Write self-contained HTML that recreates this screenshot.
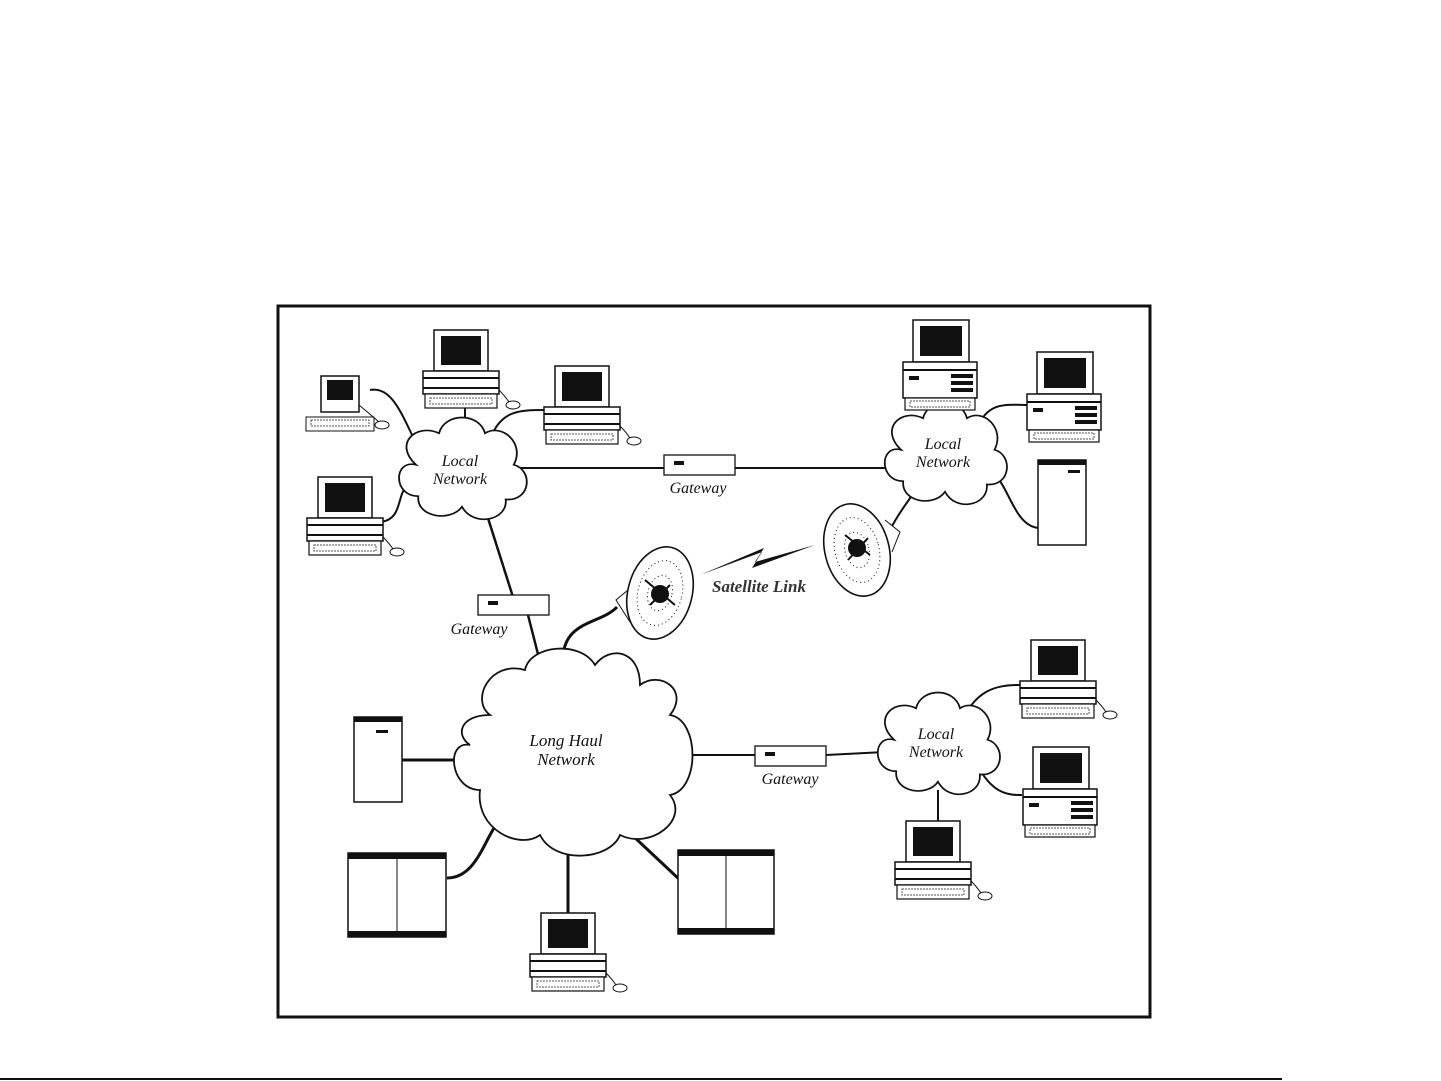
<!DOCTYPE html>
<html><head><meta charset="utf-8"><style>
html,body{margin:0;padding:0;background:#fff;}
svg{display:block}
text{font-family:"Liberation Serif",serif;font-style:italic;fill:#111}
</style></head><body>
<svg width="1441" height="1081" viewBox="0 0 1441 1081" xmlns="http://www.w3.org/2000/svg">
<defs>
<g id="pc">
 <rect x="2" y="0" width="54" height="41" fill="#fff" stroke="#111" stroke-width="1.5"/>
 <rect x="9" y="6" width="40" height="29" fill="#111"/>
 <rect x="-9" y="41" width="76" height="23" fill="#fff" stroke="#111" stroke-width="1.5"/>
 <line x1="-9" y1="48" x2="67" y2="48" stroke="#111" stroke-width="2"/>
 <line x1="-9" y1="58" x2="67" y2="58" stroke="#111" stroke-width="2"/>
 <rect x="-7" y="64" width="72" height="14" fill="#fff" stroke="#111" stroke-width="1.2"/>
 <rect x="-2" y="68" width="62" height="6" fill="none" stroke="#555" stroke-dasharray="2 1"/>
 <path d="M67 60 q6 6 10 12" fill="none" stroke="#111"/>
 <ellipse cx="81" cy="75" rx="7" ry="4" fill="#fff" stroke="#111"/>
</g>
<g id="pc2">
 <rect x="0" y="0" width="56" height="42" fill="#fff" stroke="#111" stroke-width="1.5"/>
 <rect x="7" y="6" width="42" height="30" fill="#111"/>
 <rect x="-10" y="42" width="74" height="36" fill="#fff" stroke="#111" stroke-width="1.5"/>
 <line x1="-10" y1="50" x2="64" y2="50" stroke="#111" stroke-width="2"/>
 <rect x="-4" y="56" width="10" height="4" fill="#111"/>
 <rect x="38" y="54" width="22" height="4" fill="#111"/><rect x="38" y="61" width="22" height="4" fill="#111"/><rect x="38" y="68" width="22" height="4" fill="#111"/>
 <rect x="-8" y="78" width="70" height="12" fill="#fff" stroke="#111" stroke-width="1.2"/>
 <rect x="-3" y="81" width="60" height="6" fill="none" stroke="#555" stroke-dasharray="2 1"/>
</g>
<g id="cloud">
 <path d="M-40,-5 C-60,-10 -60,25 -38,25 C-40,45 -10,50 0,35 C10,55 40,48 38,28 C60,30 62,0 45,-5 C55,-25 35,-45 20,-35 C15,-55 -15,-55 -20,-35 C-40,-45 -60,-25 -40,-5 Z" fill="#fff" stroke="#111" stroke-width="1.6"/>
</g>
</defs>
<rect width="1441" height="1081" fill="#fff"/>
<line x1="0" y1="1079" x2="1282" y2="1079" stroke="#111" stroke-width="2"/>
<rect x="278" y="306" width="872" height="711" fill="#fff" stroke="#111" stroke-width="3"/>

<!-- connectors -->
<g stroke="#111" stroke-width="2.5" fill="none">
<line x1="510" y1="468" x2="895" y2="468" stroke-width="2"/>
<line x1="487" y1="515" x2="513" y2="597"/>
<line x1="528" y1="615" x2="540" y2="662"/>
<path d="M563 665 C560 620 600 625 617 607" stroke-width="3"/>
<line x1="685" y1="755" x2="755" y2="755" stroke-width="2"/>
<line x1="826" y1="755" x2="885" y2="752" stroke-width="2"/>
<line x1="402" y1="760" x2="462" y2="760" stroke-width="3"/>
<path d="M505 815 C485 830 480 878 447 878" stroke-width="3"/>
<line x1="568" y1="850" x2="568" y2="914" stroke-width="3"/>
<line x1="632" y1="835" x2="680" y2="880" stroke-width="3"/>
<path d="M370 390 C395 385 405 425 420 450" stroke-width="2"/>
<path d="M465 405 L465 430" stroke-width="2"/>
<path d="M490 440 C500 410 520 410 545 410" stroke-width="2"/>
<path d="M380 522 C405 520 395 490 410 485" stroke-width="2"/>
<line x1="945" y1="398" x2="945" y2="410" stroke-width="2"/>
<path d="M975 435 C985 400 1005 405 1030 405" stroke-width="2"/>
<path d="M995 475 C1010 490 1015 525 1038 528" stroke-width="2"/>
<path d="M890 530 C900 510 910 500 915 490" stroke-width="2"/>
<path d="M960 725 C975 690 995 685 1020 685" stroke-width="2"/>
<path d="M980 770 C995 795 1010 795 1022 795" stroke-width="2"/>
<line x1="938" y1="790" x2="938" y2="822" stroke-width="2"/>
</g>

<!-- clouds -->
<use href="#cloud" transform="translate(462,470) scale(1.15,1.05)"/>
<use href="#cloud" transform="translate(945,455) scale(1.1,1.05)"/>
<use href="#cloud" transform="translate(938,745) scale(1.1,1.05)"/>
<path d="M470,745 C445,740 450,790 480,790 C475,830 520,850 540,835 C555,865 610,860 620,835 C650,850 690,820 670,795 C700,790 700,720 670,715 C690,690 660,670 640,685 C640,650 610,645 595,665 C580,640 530,645 525,670 C490,660 470,700 490,715 C460,715 455,735 470,745 Z" fill="#fff" stroke="#111" stroke-width="1.8"/>
<text x="460" y="466" font-size="16" text-anchor="middle">Local</text>
<text x="460" y="484" font-size="16" text-anchor="middle">Network</text>
<text x="943" y="449" font-size="16" text-anchor="middle">Local</text>
<text x="943" y="467" font-size="16" text-anchor="middle">Network</text>
<text x="936" y="739" font-size="16" text-anchor="middle">Local</text>
<text x="936" y="757" font-size="16" text-anchor="middle">Network</text>
<text x="566" y="746" font-size="17" text-anchor="middle">Long Haul</text>
<text x="566" y="765" font-size="17" text-anchor="middle">Network</text>

<!-- gateways -->
<g fill="#fff" stroke="#111" stroke-width="1.3">
<rect x="664" y="455" width="71" height="20"/><rect x="478" y="595" width="71" height="20"/><rect x="755" y="746" width="71" height="20"/>
</g>
<g fill="#111"><rect x="674" y="461" width="10" height="4"/><rect x="488" y="601" width="10" height="4"/><rect x="765" y="752" width="10" height="4"/></g>
<text x="698" y="493" font-size="16" text-anchor="middle">Gateway</text>
<text x="479" y="634" font-size="16" text-anchor="middle">Gateway</text>
<text x="790" y="784" font-size="16" text-anchor="middle">Gateway</text>

<!-- computers -->
<g>
 <rect x="321" y="376" width="38" height="36" fill="#fff" stroke="#111" stroke-width="1.5"/>
 <rect x="327" y="380" width="26" height="20" fill="#111"/>
 <rect x="306" y="417" width="68" height="14" fill="#fff" stroke="#111"/>
 <rect x="311" y="420" width="58" height="6" fill="none" stroke="#555" stroke-dasharray="2 1"/>
 <path d="M359 405 q12 10 20 17" fill="none" stroke="#111"/><ellipse cx="382" cy="425" rx="7" ry="4" fill="#fff" stroke="#111"/>
</g>
<use href="#pc" transform="translate(432,330)"/>
<use href="#pc" transform="translate(553,366)"/>
<use href="#pc" transform="translate(316,477)"/>
<use href="#pc" transform="translate(1029,640)"/>
<use href="#pc" transform="translate(904,821)"/>
<use href="#pc" transform="translate(539,913)"/>
<use href="#pc2" transform="translate(913,320)"/>
<use href="#pc2" transform="translate(1037,352)"/>
<use href="#pc2" transform="translate(1033,747)"/>

<!-- towers -->
<g fill="#fff" stroke="#111" stroke-width="1.5">
<rect x="1038" y="460" width="48" height="85"/><rect x="354" y="717" width="48" height="85"/>
<rect x="348" y="853" width="98" height="84"/><rect x="678" y="850" width="96" height="84"/>
</g>
<g fill="#111">
<rect x="1038" y="460" width="48" height="5"/><rect x="1068" y="470" width="12" height="3"/>
<rect x="354" y="717" width="48" height="5"/><rect x="376" y="730" width="12" height="3"/>
<rect x="348" y="853" width="98" height="6"/><rect x="348" y="931" width="98" height="6"/>
<rect x="678" y="850" width="96" height="6"/><rect x="678" y="928" width="96" height="6"/>
</g>
<line x1="397" y1="859" x2="397" y2="931" stroke="#111"/>
<line x1="726" y1="856" x2="726" y2="928" stroke="#111"/>

<!-- dishes -->
<g fill="none" stroke="#111">
<path d="M628 590 l-12 10 l14 22" fill="#fff"/>
<ellipse cx="660" cy="593" rx="32" ry="47" transform="rotate(15 660 593)" fill="#fff" stroke-width="1.6"/>
<ellipse cx="660" cy="593" rx="22" ry="33" transform="rotate(15 660 593)" stroke-dasharray="1 3"/>
<ellipse cx="660" cy="593" rx="12" ry="18" transform="rotate(15 660 593)" stroke-dasharray="1 3"/>
<path d="M885 520 l15 12 l-8 20" fill="#fff"/>
<ellipse cx="857" cy="550" rx="32" ry="47" transform="rotate(-15 857 550)" fill="#fff" stroke-width="1.6"/>
<ellipse cx="857" cy="550" rx="22" ry="33" transform="rotate(-15 857 550)" stroke-dasharray="1 3"/>
<ellipse cx="857" cy="550" rx="12" ry="18" transform="rotate(-15 857 550)" stroke-dasharray="1 3"/>
</g>
<circle cx="660" cy="594" r="9" fill="#111"/><path d="M645 580 l30 25 M650 605 l20 -20" stroke="#111" stroke-width="2"/>
<circle cx="857" cy="548" r="9" fill="#111"/><path d="M845 535 l25 20 M848 560 l20 -22" stroke="#111" stroke-width="2"/>
<path d="M700 575 L762 552 L752 568 L815 545 L755 562 L764 548 Z" fill="#111"/>
<text x="712" y="592" font-size="17" font-style="italic" font-weight="bold" style="fill:#333">Satellite Link</text>
</svg>
</body></html>
